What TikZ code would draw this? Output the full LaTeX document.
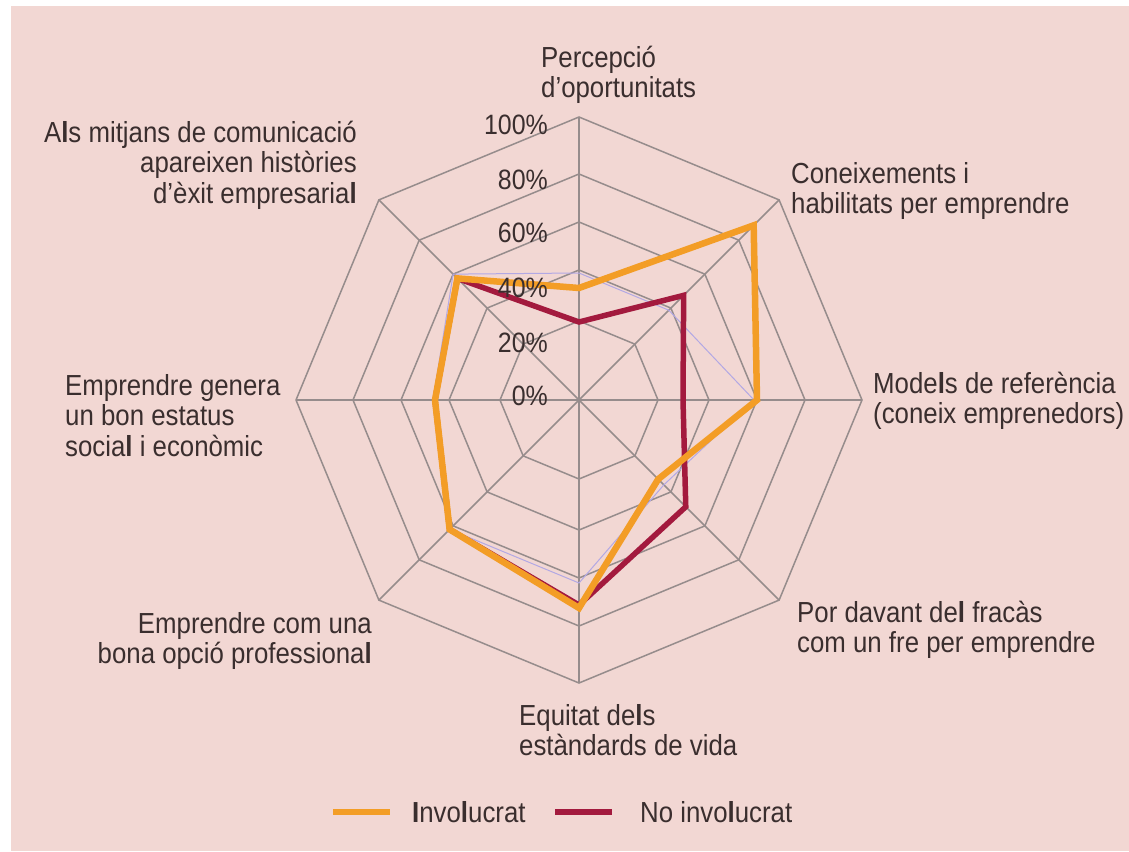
\documentclass[tikz,border=0pt]{standalone}
\usepackage{fontspec}
\setmainfont{Liberation Sans}[FakeStretch=0.89]
\usetikzlibrary{calc}
\definecolor{bgpink}{RGB}{242,215,211}
\definecolor{gridgray}{RGB}{150,140,140}
\definecolor{invorange}{RGB}{243,157,38}
\definecolor{noinvred}{RGB}{163,26,62}
\definecolor{lav}{RGB}{178,168,228}
\definecolor{txt}{RGB}{58,46,46}
\newcommand{\bl}{{\bfseries l}}
\newcommand{\bI}{{\bfseries I}}
\newcommand{\fst}{\rule{0pt}{29pt}}
\lineskiplimit=-100pt
\begin{document}
\begin{tikzpicture}[x=1pt,y=-1pt,
  lbl/.style={font=\fontsize{29}{30.5}\selectfont, text=txt, inner sep=0pt, anchor=north west, align=left},
  lblr/.style={lbl, anchor=north east, align=right},
  pct/.style={font=\fontsize{28}{30}\selectfont, text=txt, inner sep=0pt, anchor=east},
  gridline/.style={draw=gridgray, line width=1.5pt, line join=miter},
  lavline/.style={draw=lav, line width=1pt},
  invline/.style={draw=invorange, line width=6.5pt, line join=miter},
  noinvline/.style={draw=noinvred, line width=5.5pt, line join=miter},
  legtxt/.style={font=\fontsize{29}{30}\selectfont, text=txt, inner sep=0pt, anchor=base west}]
\useasboundingbox (0,0) rectangle (1129,851);
\fill[white] (0,0) rectangle (1129,851);
\fill[bgpink] (11,6) rectangle (1129,851);
\coordinate (C) at (579,400);
% outer vertices and spokes
\foreach \k in {0,...,7} {
  \coordinate (v\k) at ($(C)+({-90+45*\k}:283)$);
  \draw[gridline] (C) -- (v\k);
}
% rings
\foreach \r in {79,130,178,226,283} {
  \draw[gridline] ($(C)+(-90:\r)$)
    \foreach \a in {-45,0,45,90,135,180,225} { -- ($(C)+(\a:\r)$) } -- cycle;
}
% faint lavender polygon
\foreach \v [count=\k from 0] in {127,127,175,120,183,183,146,178}
  \coordinate (l\k) at ($(C)+({-90+45*\k}:\v)$);
\draw[lavline] (l0) -- (l1) -- (l2) -- (l3) -- (l4) -- (l5) -- (l6) -- (l7) -- cycle;
% No involucrat
\foreach \v [count=\k from 0] in {78,148,104,151,205,183,144,172}
  \coordinate (r\k) at ($(C)+({-90+45*\k}:\v)$);
\draw[noinvline] (r0) -- (r1) -- (r2) -- (r3) -- (r4) -- (r5) -- (r6) -- (r7) -- cycle;
% Involucrat
\foreach \v [count=\k from 0] in {112,247,178,112,208,183,144,172}
  \coordinate (o\k) at ($(C)+({-90+45*\k}:\v)$);
\draw[invline] (o0) -- (o1) -- (o2) -- (o3) -- (o4) -- (o5) -- (o6) -- (o7) -- cycle;
% percent labels
\node[pct] (p100) at (548,125) {100\%};
\node[pct] (p80) at (548,180) {80\%};
\node[pct] (p60) at (548,233) {60\%};
\node[pct] (p40) at (548,288) {40\%};
\node[pct] (p20) at (548,343) {20\%};
\node[pct] (p0) at (548,396) {0\%};
% axis labels
\node[lbl] (lN) at (541,38) {\fst Percepció\\d’oportunitats};
\node[lblr] (lNW) at (357,113) {\fst A\bl s mitjans de comunicació\\apareixen històries\\d’èxit empresaria\bl};
\node[lbl] (lNE) at (791,154) {\fst Coneixements i\\habilitats per emprendre};
\node[lbl] (lE) at (873,364) {\fst Mode\bl s de referència\\(coneix emprenedors)};
\node[lbl] (lW) at (65,366) {\fst Emprendre genera\\un bon estatus\\socia\bl{} i econòmic};
\node[lblr] (lSW) at (372,604) {\fst Emprendre com una\\bona opció professiona\bl};
\node[lbl] (lS) at (519,696) {\fst Equitat de\bl s\\estàndards de vida};
\node[lbl] (lSE) at (797,593) {\fst Por davant de\bl{} fracàs\\com un fre per emprendre};
% legend
\coordinate (lo1) at (333,812);
\coordinate (lo2) at (390,812);
\coordinate (lr1) at (555,812);
\coordinate (lr2) at (612,812);
\draw[invline, line cap=butt] (lo1) -- (lo2);
\draw[noinvline, line cap=butt] (lr1) -- (lr2);
\node[legtxt] (tInv) at (412,822) {\bI nvo\bl ucrat};
\node[legtxt] (tNo) at (640,822) {No invo\bl ucrat};
\end{tikzpicture}
\end{document}
